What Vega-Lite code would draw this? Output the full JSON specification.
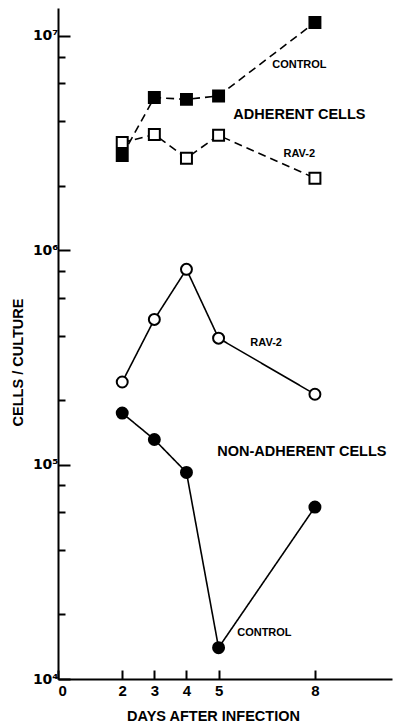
{
  "$schema": "https://vega.github.io/schema/vega-lite/v6.json",
  "autosize": "none",
  "padding": {"left": 58, "top": 8, "right": 6, "bottom": 45},
  "width": 334,
  "height": 671,
  "background": "white",
  "config": {
    "view": {"stroke": null},
    "font": "Liberation Sans",
    "axis": {
      "domainColor": "black",
      "domainWidth": 2,
      "tickColor": "black",
      "tickWidth": 2,
      "grid": false,
      "labelFont": "Liberation Sans",
      "labelFontWeight": "bold",
      "labelColor": "black",
      "titleFont": "Liberation Sans",
      "titleFontWeight": "bold",
      "titleColor": "black"
    }
  },
  "datasets": {
    "series": [
      {"group": "Adherent", "treatment": "Control", "day": 2, "value": 2770000},
      {"group": "Adherent", "treatment": "Control", "day": 3, "value": 5160000},
      {"group": "Adherent", "treatment": "Control", "day": 4, "value": 5060000},
      {"group": "Adherent", "treatment": "Control", "day": 5, "value": 5250000},
      {"group": "Adherent", "treatment": "Control", "day": 8, "value": 11560000},
      {"group": "Non-adherent", "treatment": "Control", "day": 2, "value": 174000},
      {"group": "Non-adherent", "treatment": "Control", "day": 3, "value": 131000},
      {"group": "Non-adherent", "treatment": "Control", "day": 4, "value": 92000},
      {"group": "Non-adherent", "treatment": "Control", "day": 5, "value": 14000},
      {"group": "Non-adherent", "treatment": "Control", "day": 8, "value": 63400},
      {"group": "Adherent", "treatment": "RAV-2", "day": 2, "value": 3180000},
      {"group": "Adherent", "treatment": "RAV-2", "day": 3, "value": 3470000},
      {"group": "Adherent", "treatment": "RAV-2", "day": 4, "value": 2690000},
      {"group": "Adherent", "treatment": "RAV-2", "day": 5, "value": 3440000},
      {"group": "Adherent", "treatment": "RAV-2", "day": 8, "value": 2170000},
      {"group": "Non-adherent", "treatment": "RAV-2", "day": 2, "value": 243000},
      {"group": "Non-adherent", "treatment": "RAV-2", "day": 3, "value": 476000},
      {"group": "Non-adherent", "treatment": "RAV-2", "day": 4, "value": 815000},
      {"group": "Non-adherent", "treatment": "RAV-2", "day": 5, "value": 389000},
      {"group": "Non-adherent", "treatment": "RAV-2", "day": 8, "value": 213000}
    ],
    "labels": [
      {"kind": "series", "label": "CONTROL", "day": 6.67, "value": 7280000},
      {"kind": "group", "label": "ADHERENT CELLS", "day": 5.46, "value": 4260000},
      {"kind": "series", "label": "RAV-2", "day": 7.02, "value": 2810000},
      {"kind": "series", "label": "RAV-2", "day": 5.99, "value": 368000},
      {"kind": "group", "label": "NON-ADHERENT CELLS", "day": 4.96, "value": 114000},
      {"kind": "series", "label": "CONTROL", "day": 5.58, "value": 16400}
    ]
  },
  "encoding": {
    "x": {
      "field": "day",
      "type": "quantitative",
      "scale": {"domain": [0, 10.4], "nice": false, "zero": false},
      "axis": {
        "title": "DAYS AFTER INFECTION",
        "values": [0, 2, 3, 4, 5, 8],
        "tickSize": -9,
        "labelFontSize": 15,
        "labelPadding": 13,
        "titleFontSize": 14.5,
        "titleBaseline": "alphabetic",
        "titleX": 155,
        "titleY": 41
      }
    },
    "y": {
      "field": "value",
      "type": "quantitative",
      "scale": {"type": "log", "domain": [10000, 13500000], "nice": false},
      "axis": {
        "title": "CELLS / CULTURE",
        "values": [10000, 20000, 40000, 60000, 80000, 100000, 200000, 400000, 600000, 800000, 1000000, 2000000, 4000000, 6000000, 8000000, 10000000],
        "tickSize": {"condition": {"test": "datum.value == 10000 || datum.value == 100000 || datum.value == 1000000 || datum.value == 10000000", "value": -12}, "value": -7},
        "labelExpr": "datum.value == 10000 ? '10⁴' : datum.value == 100000 ? '10⁵' : datum.value == 1000000 ? '10⁶' : datum.value == 10000000 ? '10⁷' : ''",
        "labelFont": "DejaVu Sans",
        "labelFontSize": 14,
        "labelPadding": 12,
        "titleFontSize": 14.5,
        "titleX": -33,
        "titleY": 354
      }
    }
  },
  "layer": [
    {
      "data": {"name": "series"},
      "mark": {"type": "line", "color": "black", "strokeWidth": 1.6},
      "encoding": {
        "detail": {"field": "treatment"},
        "strokeDash": {
          "field": "group",
          "scale": {"domain": ["Adherent", "Non-adherent"], "range": [[8, 5], [1, 0]]},
          "legend": null
        }
      }
    },
    {
      "data": {"name": "series"},
      "mark": {"type": "point", "filled": true, "stroke": "black", "strokeWidth": 2, "opacity": 1},
      "encoding": {
        "shape": {
          "field": "group",
          "scale": {"domain": ["Adherent", "Non-adherent"], "range": ["square", "circle"]},
          "legend": null
        },
        "fill": {
          "field": "treatment",
          "scale": {"domain": ["Control", "RAV-2"], "range": ["black", "white"]},
          "legend": null
        },
        "size": {"value": 120}
      }
    },
    {
      "data": {"name": "labels"},
      "transform": [{"filter": "datum.kind == 'group'"}],
      "mark": {"type": "text", "align": "left", "baseline": "middle", "fontSize": 14.5, "fontWeight": "bold", "color": "black"},
      "encoding": {"text": {"field": "label"}}
    },
    {
      "data": {"name": "labels"},
      "transform": [{"filter": "datum.kind == 'series'"}],
      "mark": {"type": "text", "align": "left", "baseline": "middle", "fontSize": 11, "fontWeight": "bold", "color": "black"},
      "encoding": {"text": {"field": "label"}}
    }
  ]
}
